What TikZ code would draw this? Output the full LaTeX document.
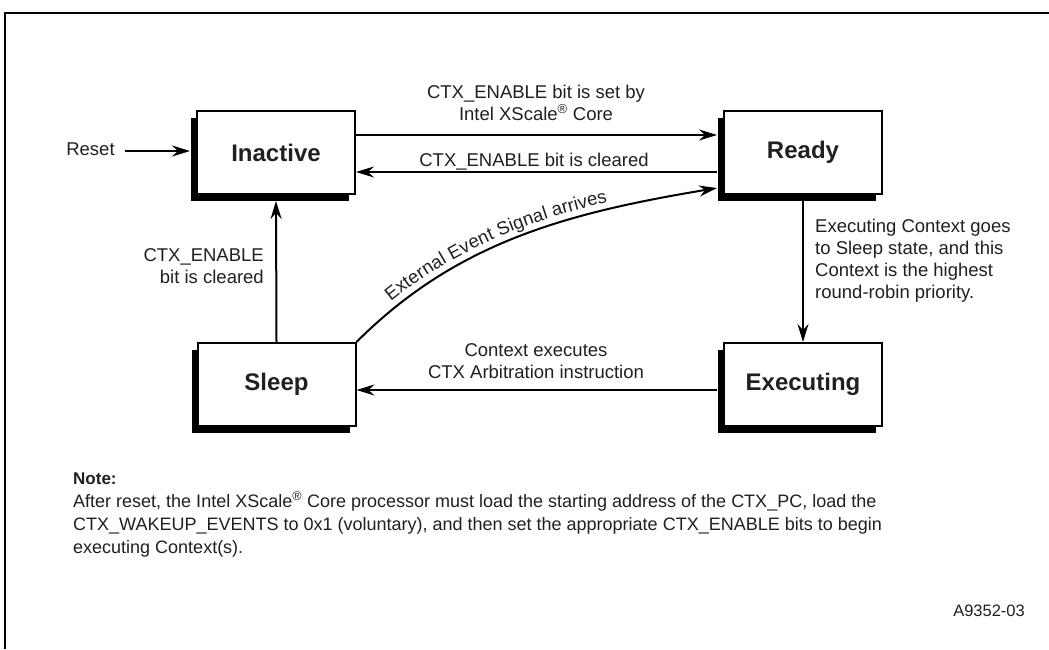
\documentclass[tikz,border=0pt]{standalone}
\usepackage{fontspec}
\setmainfont{Liberation Sans}
\usetikzlibrary{arrows.meta,shadows,decorations.text}
\definecolor{ink}{HTML}{231F20}
\begin{document}
\begin{tikzpicture}[x=1pt,y=-1pt,
  state/.style={draw=black, line width=2pt, fill=white, minimum width=158pt,
    minimum height=83pt, inner sep=0pt, text=ink,
    font=\fontsize{24}{28}\selectfont\bfseries,
    drop shadow={shadow xshift=-6pt, shadow yshift=-7pt, fill=black, opacity=1}},
  arr/.style={line width=2pt, -{Stealth[length=18pt,width=11pt,inset=6pt]}},
  lbl/.style={inner sep=0pt, text=ink, font=\fontsize{18.5}{22}\selectfont},
  notefont/.style={inner sep=0pt, text=ink, font=\fontsize{18}{23}\selectfont},
  frame/.style={line width=2pt}]
\useasboundingbox[fill=white] (0,0) rectangle (1049,649);
\draw[frame] (5,649) -- (5,13) -- (1049,13);

\node[state] (inactive) at (276,152.5) {Inactive};
\node[state] (ready) at (803,152.5) {Ready};
\node[state] (sleep) at (276.5,384.5) {Sleep};
\node[state] (exec) at (803,384.5) {Executing};

\node[lbl, anchor=base] (reset) at (90.5,155) {Reset};
\draw[arr] ([xshift=10pt]reset.east |- 0,151) -- ([xshift=-6pt]inactive.west |- 0,151);

\draw[arr] (inactive.east |- 0,135) -- ([xshift=-6pt]ready.west |- 0,135);
\node[lbl, anchor=base, align=center] (l1) at (536,120) {CTX\_ENABLE bit is set by\\Intel XScale\textsuperscript{®} Core};

\draw[arr] ([xshift=-6pt]ready.west |- 0,172) -- (inactive.east |- 0,172);
\node[lbl, anchor=base] (l2) at (534,166) {CTX\_ENABLE bit is cleared};

\draw[arr] ([yshift=-6pt]ready.south) -- (exec.north);
\node[lbl, anchor=base west, align=left] (l3) at (815,298) {Executing Context goes\\to Sleep state, and this\\Context is the highest\\round-robin priority.};

\draw[arr] (sleep.north) -- ([yshift=-6pt]inactive.south);
\node[lbl, anchor=base east, align=right] (l4) at (264,283) {CTX\_ENABLE\\bit is cleared};

\draw[arr] ([xshift=-6pt]exec.west |- 0,390) -- (sleep.east |- 0,390);
\node[lbl, anchor=base, align=center] (l5) at (536,378) {Context executes\\CTX Arbitration instruction};

\draw[arr, postaction={decorate, decoration={text along path, raise=7pt,
    text align={left indent=52pt},
    text={|\fontsize{18.5}{22}\selectfont\color{ink}|External Event Signal arrives}}}]
  (sleep.north east) .. controls +(100,-100) and +(-150,25) .. ([xshift=-6pt]ready.west |- 0,188);

\node[inner sep=0pt, text=ink, font=\fontsize{17}{20}\selectfont\bfseries, anchor=base west] (note) at (73,484) {Note:};
\node[notefont, anchor=base west, align=left] (notetext) at (73,553) {After reset, the Intel XScale\textsuperscript{®} Core processor must load the starting address of the CTX\_PC, load the\\CTX\_WAKEUP\_EVENTS to 0x1 (voluntary), and then set the appropriate CTX\_ENABLE bits to begin\\executing Context(s).};

\node[inner sep=0pt, text=ink, font=\fontsize{16.5}{20}\selectfont, anchor=base east] (fig) at (1025,616) {A9352-03};
\end{tikzpicture}
\end{document}
